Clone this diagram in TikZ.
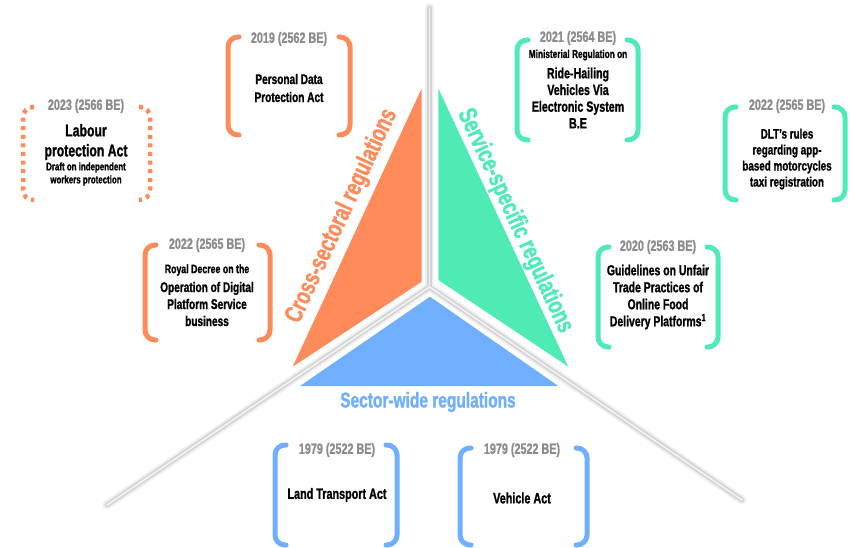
\documentclass[tikz,border=0pt]{standalone}
\usepackage{fontspec}
\setmainfont{Liberation Sans}[FakeStretch=0.72, BoldFeatures={FakeBold=1.2}]
\definecolor{orng}{HTML}{FF8B5A}
\definecolor{grn}{HTML}{4EEBB4}
\definecolor{blu}{HTML}{70AEFF}
\definecolor{yeargray}{HTML}{8C8C8C}
\definecolor{linegray}{HTML}{D4D4D4}
\tikzset{
  brk/.style={line width=5pt, line cap=round, rounded corners=10pt},
  dotbrk/.style={line width=4.5pt, dash pattern=on 4pt off 4.6pt, rounded corners=10pt},
  yeartxt/.style={text=yeargray, font=\bfseries\fontsize{15}{16}\selectfont, inner sep=1pt},
  bodytxt/.style={align=center, font=\bfseries\fontsize{14}{17}\selectfont, inner sep=0pt},
  smalltxt/.style={align=center, font=\bfseries\fontsize{11}{13}\selectfont, inner sep=0pt},
  bigtxt/.style={align=center, font=\bfseries\fontsize{17}{20}\selectfont, inner sep=0pt},
  cattxt/.style={font=\bfseries\fontsize{25.5}{27}\selectfont, inner sep=0pt},
  sepline/.style={line width=5pt, draw=linegray, line cap=round},
  sepshadow/.style={line width=9pt, draw=black!6, line cap=round},
  sephi/.style={line width=1.6pt, draw=black!5, line cap=round}
}
\newcommand{\brkpair}[5]{% xl, xr, top, bottom, style
  \draw[#5] ({#1+11},#3) -- (#1,#3) -- (#1,#4) -- ({#1+11},#4);
  \draw[#5] ({#2-11},#3) -- (#2,#3) -- (#2,#4) -- ({#2-11},#4);
}
\begin{document}
\begin{tikzpicture}[x=1pt,y=-1pt]
\useasboundingbox (0,0) rectangle (851,548);
% separator lines
\coordinate (c) at (429.5,287);
\coordinate (ctop) at (429.5,8);
\coordinate (cleft) at (107,505);
\coordinate (cright) at (742,500);
\foreach \e in {ctop,cleft,cright}{\draw[sepshadow] (c) -- (\e);}
\foreach \e in {ctop,cleft,cright}{\draw[sepline] (c) -- (\e);}
\foreach \e in {ctop,cleft,cright}{\draw[sephi] (c) -- (\e);}
% triangles
\fill[orng] (421.7,88.3) -- (421.7,281.7) -- (292.7,366.7) -- cycle;
\fill[grn] (438.3,88.3) -- (438.3,280) -- (568.3,366.7) -- cycle;
\fill[blu] (430,296.7) -- (558.3,386) -- (300,386) -- cycle;
% category labels
\node[cattxt, text=orng, rotate=65.1] (cross) at (342,216) {Cross-sectoral regulations};
\node[cattxt, text=grn, rotate=-65.1] (serv) at (515,221) {Service-specific regulations};
\node[cattxt, text=blu, font=\bfseries\fontsize{21.5}{23}\selectfont] (sect) at (428,402) {Sector-wide regulations};
% Box 1: Labour (dotted)
\brkpair{23}{150}{107}{200}{dotbrk, draw=orng}
\node[yeartxt] (y1) at (86,106) {2023 (2566 BE)};
\node[bigtxt] (t1) at (86,142) {Labour\\protection Act};
\node[smalltxt] (s1) at (86,174) {Draft on independent\\workers protection};
% Box 2: PDPA
\brkpair{228}{350}{37}{135}{brk, draw=orng}
\node[yeartxt] (y2) at (289,39) {2019 (2562 BE)};
\node[bodytxt, font=\bfseries\fontsize{14}{18}\selectfont] (t2) at (289,88) {Personal Data\\Protection Act};
% Box 3: Royal Decree
\brkpair{145}{270}{245}{340}{brk, draw=orng}
\node[yeartxt] (y3) at (207,245) {2022 (2565 BE)};
\node[smalltxt, font=\bfseries\fontsize{12.2}{14}\selectfont] (s3) at (207,270) {Royal Decree on the};
\node[bodytxt] (t3) at (207,304) {Operation of Digital\\Platform Service\\business};
% Box 4: Ministerial Regulation
\brkpair{517}{638}{40}{140}{brk, draw=grn}
\node[yeartxt] (y4) at (578,38) {2021 (2564 BE)};
\node[smalltxt, font=\bfseries\fontsize{11.5}{13}\selectfont] (s4) at (578,55) {Ministerial Regulation on};
\node[bodytxt, font=\bfseries\fontsize{14.8}{16.7}\selectfont] (t4) at (578,98) {Ride-Hailing\\Vehicles Via\\Electronic System\\B.E};
% Box 5: DLT
\brkpair{725}{845}{107}{200}{brk, draw=grn}
\node[yeartxt] (y5) at (787,106) {2022 (2565 BE)};
\node[bodytxt, font=\bfseries\fontsize{13.7}{16}\selectfont] (t5) at (787,159) {DLT's rules\\regarding app-\\based motorcycles\\taxi registration};
% Box 6: Guidelines
\brkpair{598}{718}{247}{347}{brk, draw=grn}
\node[yeartxt] (y6) at (658,247) {2020 (2563 BE)};
\node[bodytxt, font=\bfseries\fontsize{14.5}{17}\selectfont] (t6) at (658,297) {Guidelines on Unfair\\Trade Practices of\\Online Food\\Delivery Platforms\textsuperscript{1}};
% Box 7: Land Transport
\brkpair{275}{397}{445}{545}{brk, draw=blu}
\node[yeartxt] (y7) at (337,450) {1979 (2522 BE)};
\node[bodytxt, font=\bfseries\fontsize{15}{17}\selectfont] (t7) at (337,495) {Land Transport Act};
% Box 8: Vehicle Act
\brkpair{460}{587}{448}{545}{brk, draw=blu}
\node[yeartxt] (y8) at (522,450) {1979 (2522 BE)};
\node[bodytxt, font=\bfseries\fontsize{15}{17}\selectfont] (t8) at (522,498) {Vehicle Act};
\end{tikzpicture}
\end{document}
